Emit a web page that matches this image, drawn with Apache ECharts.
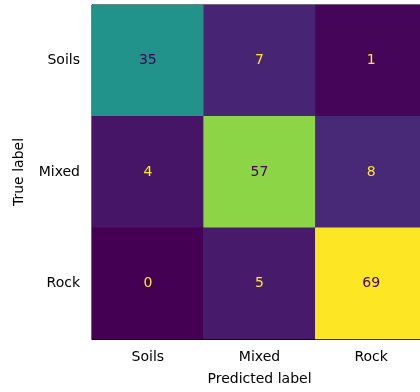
<!DOCTYPE html>
<html>
<head>
<meta charset="utf-8">
<script src="https://cdn.jsdelivr.net/npm/echarts@6/dist/echarts.min.js"></script>
<style>
  html, body { margin: 0; padding: 0; background: #fff; }
  #chart { width: 420px; height: 392px; }
</style>
</head>
<body>
<div id="chart"></div>
<script>
// confusion matrix: rows = true label, columns = predicted label
const classes = ['Soils', 'Mixed', 'Rock'];
const soilsRow = [35, 7, 1];
const mixedRow = [4, 57, 8];
const rockRow = [0, 5, 69];
const rows = [soilsRow, mixedRow, rockRow];

const viridis = ['#440154', '#482475', '#414487', '#355f8d', '#2a788e', '#21918c',
  '#22a884', '#44bf70', '#7ad151', '#bddf26', '#fde725'];

const allValues = rows.flat();
const vMin = Math.min(...allValues);
const vMax = Math.max(...allValues);
const threshold = (vMin + vMax) / 2;

const cells = [];
rows.forEach((row, i) => {
  row.forEach((v, j) => {
    cells.push({
      value: [j, i, v],
      label: { color: v > threshold ? viridis[0] : viridis[viridis.length - 1] }
    });
  });
});

const font = 'DejaVu Sans';
const chart = echarts.init(document.getElementById('chart'));
chart.setOption({
  animation: false,
  grid: {
    left: 92, top: 5, width: 335, height: 334,
    outerBoundsMode: 'none',
    show: true, borderColor: '#000', borderWidth: 1, backgroundColor: 'transparent'
  },
  xAxis: {
    type: 'category',
    data: classes,
    name: 'Predicted label',
    nameLocation: 'middle',
    nameGap: 33,
    nameTextStyle: { fontFamily: font, fontSize: 14, color: '#000' },
    axisLine: { lineStyle: { color: '#000' } },
    axisTick: { alignWithLabel: true, length: 4, lineStyle: { color: '#000' } },
    axisLabel: { fontFamily: font, fontSize: 14, color: '#000', margin: 11 },
    splitLine: { show: false }
  },
  yAxis: {
    type: 'category',
    data: classes,
    inverse: true,
    name: 'True label',
    nameLocation: 'middle',
    nameGap: 66,
    nameTextStyle: { fontFamily: font, fontSize: 14, color: '#000' },
    axisLine: { lineStyle: { color: '#000' } },
    axisTick: { alignWithLabel: true, length: 4, lineStyle: { color: '#000' } },
    axisLabel: { fontFamily: font, fontSize: 14, color: '#000', margin: 12 },
    splitLine: { show: false }
  },
  visualMap: {
    show: false,
    min: vMin,
    max: vMax,
    dimension: 2,
    inRange: { color: viridis }
  },
  series: [{
    type: 'heatmap',
    data: cells,
    label: { show: true, fontFamily: font, fontSize: 14 },
    itemStyle: { borderWidth: 0 },
    emphasis: { disabled: true }
  }]
});
</script>
</body>
</html>
